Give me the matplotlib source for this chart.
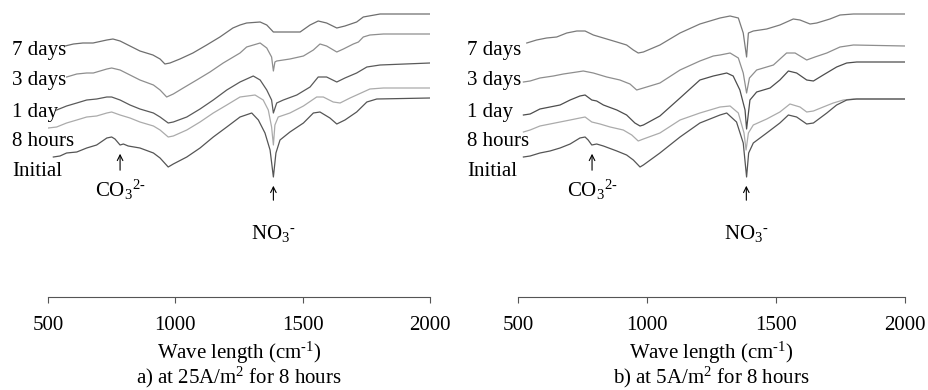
import matplotlib
matplotlib.use('Agg')
import matplotlib.pyplot as plt

plt.rcParams['font.family'] = ['Liberation Serif', 'DejaVu Serif']
plt.rcParams['mathtext.fontset'] = 'custom'
plt.rcParams['mathtext.rm'] = 'Liberation Serif'
plt.rcParams['mathtext.it'] = 'Liberation Serif:italic'

# FTIR spectra, offset stacked (arbitrary units)
# a) 25 A/m2
a_7d_wn = [567, 600, 637, 677, 731, 755, 783, 822, 861, 912, 940, 959, 979, 1018, 1069, 1123, 1175, 1226,
           1254, 1280, 1333, 1359, 1385, 1424, 1490, 1529, 1561, 1594, 1634, 1666, 1712, 1738, 1804, 2000]
a_7d_val = [251, 253, 254, 254, 257, 258, 256, 251, 246, 242, 238, 233, 234, 238, 244, 252, 260, 269,
            272, 274, 275, 272, 265, 265, 265, 272, 276, 274, 269, 271, 275, 280, 283, 283]

a_3d_wn = [573, 613, 652, 678, 731, 750, 783, 822, 861, 914, 940, 966, 992, 1031, 1084, 1136, 1188, 1254,
           1280, 1333, 1359, 1378, 1385, 1391, 1398, 1450, 1503, 1542, 1568, 1594, 1634, 1660, 1699, 1719,
           1738, 1764, 1817, 2000]
a_3d_val = [220, 223, 224, 224, 228, 229, 227, 222, 217, 212, 207, 200, 203, 209, 217, 225, 234, 244,
            250, 254, 249, 240, 226, 235, 236, 238, 241, 247, 253, 251, 245, 248, 253, 255,
            260, 262, 263, 263]

a_1d_wn = [534, 573, 613, 652, 691, 731, 750, 783, 822, 861, 914, 940, 972, 992, 1045, 1097, 1149, 1202,
           1254, 1306, 1333, 1359, 1378, 1385, 1398, 1424, 1477, 1529, 1561, 1594, 1634, 1666, 1712, 1752,
           1804, 2000]
a_1d_val = [187, 191, 194, 197, 198, 200, 200, 197, 192, 188, 184, 180, 174, 175, 180, 188, 197, 207,
            215, 221, 217, 207, 197, 184, 194, 197, 202, 210, 220, 220, 215, 219, 224, 230,
            232, 234]

a_8h_wn = [501, 534, 573, 613, 652, 691, 731, 750, 783, 822, 861, 914, 940, 972, 992, 1045, 1097, 1149,
           1202, 1254, 1313, 1345, 1365, 1378, 1385, 1391, 1404, 1450, 1503, 1555, 1581, 1620, 1647, 1686,
           1738, 1764, 1817, 2000]
a_8h_val = [169, 170, 174, 177, 180, 181, 184, 185, 182, 179, 175, 171, 167, 160, 161, 167, 175, 184,
            192, 200, 202, 197, 187, 170, 152, 172, 180, 184, 191, 200, 200, 195, 194, 199,
            205, 208, 209, 209]

a_0_wn = [521, 547, 573, 613, 652, 691, 731, 750, 763, 783, 796, 815, 861, 914, 940, 972, 992, 1045,
          1097, 1149, 1202, 1254, 1300, 1326, 1352, 1372, 1385, 1395, 1411, 1450, 1503, 1542, 1568, 1607,
          1634, 1666, 1712, 1752, 1791, 2000]
a_0_val = [140, 141, 144, 145, 149, 152, 159, 160, 158, 152, 153, 151, 149, 144, 139, 130, 133, 140,
           149, 160, 170, 180, 184, 177, 164, 147, 120, 144, 157, 165, 174, 184, 185, 179,
           173, 177, 185, 195, 198, 199]

# b) 5 A/m2
b_7d_wn = [534, 572, 611, 650, 689, 728, 760, 792, 831, 883, 921, 947, 966, 986, 1050, 1128, 1205, 1283,
           1322, 1354, 1373, 1386, 1393, 1412, 1464, 1515, 1567, 1593, 1632, 1658, 1709, 1748, 1800, 2000]
b_7d_val = [254, 257, 259, 260, 264, 266, 266, 262, 259, 255, 252, 247, 244, 245, 252, 264, 273, 279,
            281, 279, 264, 240, 264, 266, 268, 272, 278, 277, 273, 274, 278, 282, 283, 283]

b_3d_wn = [521, 547, 585, 637, 676, 728, 753, 792, 844, 895, 934, 960, 986, 1050, 1128, 1205, 1257, 1283,
           1322, 1354, 1373, 1386, 1397, 1425, 1490, 1541, 1574, 1619, 1651, 1697, 1748, 1800, 2000]
b_3d_val = [215, 216, 219, 221, 223, 225, 226, 224, 220, 217, 213, 207, 209, 214, 227, 236, 241, 242,
            244, 239, 224, 204, 219, 227, 232, 244, 244, 237, 240, 244, 250, 252, 251]

b_1d_wn = [521, 547, 585, 624, 663, 702, 740, 760, 786, 805, 831, 883, 921, 953, 973, 986, 1050, 1128,
           1205, 1257, 1309, 1334, 1360, 1380, 1386, 1399, 1425, 1477, 1515, 1548, 1580, 1619, 1645, 1683,
           1735, 1774, 1813, 2000]
b_1d_val = [182, 183, 188, 190, 192, 197, 201, 202, 197, 196, 192, 187, 182, 174, 171, 172, 181, 199,
            217, 221, 224, 221, 207, 187, 168, 197, 205, 209, 217, 226, 224, 217, 216, 222,
            230, 234, 235, 235]

b_8h_wn = [521, 547, 585, 624, 663, 702, 740, 760, 786, 818, 857, 908, 941, 966, 986, 1050, 1128, 1205,
           1283, 1322, 1354, 1376, 1384, 1393, 1412, 1464, 1515, 1554, 1593, 1619, 1645, 1683, 1722, 1761,
           1800, 2000]
b_8h_val = [165, 167, 171, 173, 175, 177, 179, 180, 175, 173, 170, 167, 162, 156, 158, 164, 177, 184,
            190, 191, 184, 164, 147, 164, 172, 178, 185, 193, 190, 185, 186, 190, 194, 197,
            198, 198]

b_0_wn = [521, 547, 585, 624, 663, 702, 740, 760, 772, 786, 805, 831, 883, 921, 947, 973, 986, 1050,
          1128, 1205, 1283, 1309, 1347, 1373, 1386, 1394, 1412, 1464, 1515, 1548, 1580, 1619, 1645, 1697,
          1735, 1774, 1813, 2000]
b_0_val = [140, 141, 144, 146, 149, 153, 159, 160, 157, 152, 153, 151, 146, 142, 137, 130, 132, 144,
           160, 174, 182, 184, 175, 154, 120, 144, 154, 164, 174, 182, 180, 173, 174, 184,
           192, 197, 198, 198]

series_names = ['7 days', '3 days', '1 day', '8 hours', 'Initial']
a_colors = ['#6e6e6e', '#8e8e8e', '#5a5a5a', '#ababab', '#555555']
b_colors = ['#7a7a7a', '#8e8e8e', '#4d4d4d', '#ababab', '#555555']
ticks = [500, 1000, 1500, 2000]
subtitles = ['a) at 25A/m$^2$ for 8 hours', 'b) at 5A/m$^2$ for 8 hours']

fig = plt.figure(figsize=(9.29, 3.90), dpi=100)
ax1 = fig.add_axes([48 / 929, 93 / 390, 382 / 929, 297 / 390])
ax2 = fig.add_axes([518 / 929, 93 / 390, 387 / 929, 297 / 390])

panels = [
    (ax1, [(a_7d_wn, a_7d_val), (a_3d_wn, a_3d_val), (a_1d_wn, a_1d_val), (a_8h_wn, a_8h_val), (a_0_wn, a_0_val)],
     a_colors, 360, 783),
    (ax2, [(b_7d_wn, b_7d_val), (b_3d_wn, b_3d_val), (b_1d_wn, b_1d_val), (b_8h_wn, b_8h_val), (b_0_wn, b_0_val)],
     b_colors, 302, 787),
]

label_y = [247, 217, 185, 155, 125]

for k, (ax, curves, colors, lab_x, co3_x) in enumerate(panels):
    for (wn, val), c in zip(curves, colors):
        ax.plot(wn, val, color=c, linewidth=0.9)
    ax.set_xlim(500, 2000)
    ax.set_ylim(0, 297)
    for s in ['left', 'right', 'top']:
        ax.spines[s].set_visible(False)
    ax.spines['bottom'].set_color('#555555')
    ax.spines['bottom'].set_linewidth(0.8)
    ax.set_yticks([])
    ax.set_xticks(ticks)
    ax.tick_params(axis='x', direction='out', length=4, width=0.8, color='#555555',
                   labelsize=15, pad=10)
    ax.set_xlabel(r'Wave length (cm$^{\text{-}1}$)', fontsize=15, labelpad=3)
    ax.text(0.5, -0.272, subtitles[k], transform=ax.transAxes, ha='center', va='center', fontsize=15)

    for name, y in zip(series_names, label_y):
        ax.text(lab_x, y, name, fontsize=15, ha='left', va='center', clip_on=False)

    # band markers
    ax.annotate('', xy=(co3_x, 146), xytext=(co3_x, 124),
                arrowprops=dict(arrowstyle='->', color='black', lw=0.8))
    ax.text(co3_x, 107, r'CO$_3$$^{2\text{-}}$', fontsize=15, ha='center', va='center')
    ax.annotate('', xy=(1385, 114), xytext=(1385, 94),
                arrowprops=dict(arrowstyle='->', color='black', lw=0.8))
    ax.text(1385, 63, r'NO$_3$$^{\text{-}}$', fontsize=15, ha='center', va='center')

plt.savefig('out.png', dpi=100)
